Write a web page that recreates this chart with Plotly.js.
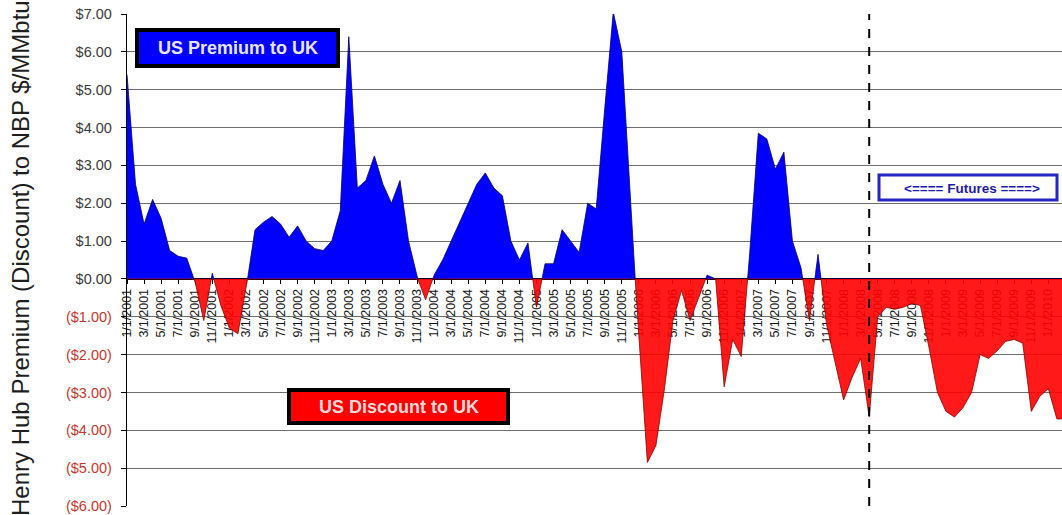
<!DOCTYPE html>
<html>
<head>
<meta charset="utf-8">
<script src="https://cdn.plot.ly/plotly-3.0.1.min.js"></script>
<style>
  html, body { margin: 0; padding: 0; background: #ffffff; }
  #chart { width: 1062px; height: 515px; }
</style>
</head>
<body>
<div id="chart"></div>
<script>
// Henry Hub premium / discount to NBP, monthly from Jan 2001 ($/MMBtu)
const spread = [
   5.40,  2.50,  1.45,  2.10,  1.60,  0.75,  0.60,  0.55, -0.10, -1.10,  // 2001
   0.15, -0.70, -1.30, -1.45, -0.20,  1.30,  1.50,  1.65,  1.45,  1.10,  // ...2002
   1.40,  1.00,  0.80,  0.75,  1.00,  1.80,  6.40,  2.40,  2.60,  3.25,
   2.50,  2.00,  2.60,  1.00,  0.05, -0.55,  0.10,  0.50,  1.00,  1.50,
   2.00,  2.50,  2.80,  2.40,  2.20,  1.00,  0.50,  0.95, -0.75,  0.40,
   0.40,  1.30,  1.00,  0.70,  2.00,  1.85,  4.50,  7.05,  6.00,  2.00,
  -1.50, -4.85, -4.40, -2.90, -1.10, -0.30, -1.10, -0.50,  0.10,  0.00,
  -2.85, -1.60, -2.05,  0.70,  3.85,  3.70,  2.90,  3.35,  1.00,  0.30,
  -1.10,  0.65, -1.20, -2.20, -3.20, -2.60, -2.10, -3.65, -1.00, -0.75,
  -0.80, -0.75, -0.65, -0.70, -1.80, -3.00, -3.50, -3.65, -3.40, -3.00,
  -2.00, -2.10, -1.90, -1.65, -1.60, -1.70, -3.50, -3.10, -2.90, -3.70,
  -3.70
];

// Bimonthly axis labels
const tickLabels = [
  "1/1/2001","3/1/2001","5/1/2001","7/1/2001","9/1/2001","11/1/2001",
  "1/1/2002","3/1/2002","5/1/2002","7/1/2002","9/1/2002","11/1/2002",
  "1/1/2003","3/1/2003","5/1/2003","7/1/2003","9/1/2003","11/1/2003",
  "1/1/2004","3/1/2004","5/1/2004","7/1/2004","9/1/2004","11/1/2004",
  "1/1/2005","3/1/2005","5/1/2005","7/1/2005","9/1/2005","11/1/2005",
  "1/1/2006","3/1/2006","5/1/2006","7/1/2006","9/1/2006","11/1/2006",
  "1/1/2007","3/1/2007","5/1/2007","7/1/2007","9/1/2007","11/1/2007",
  "1/1/2008","3/1/2008","5/1/2008","7/1/2008","9/1/2008","11/1/2008",
  "1/1/2009","3/1/2009","5/1/2009","7/1/2009","9/1/2009","11/1/2009",
  "1/1/2010"
];
const tickMonths = tickLabels.map((_, i) => i * 2);   // month index of each label

// First month of the futures strip (4/1/2008)
const futuresStart = 87;

const yTicks = [7, 6, 5, 4, 3, 2, 1, 0, -1, -2, -3, -4, -5, -6];

function money(v) {
  const s = "$" + Math.abs(v).toFixed(2);
  return v < 0 ? '<span style="color:#c8372d">(' + s + ')</span>' : s;
}

// Split the series into its positive and negative parts, meeting at zero crossings
function splitAtZero(vals) {
  const pos = { x: [], y: [] }, neg = { x: [], y: [] };
  for (let i = 0; i < vals.length; i++) {
    const v = vals[i];
    pos.x.push(i); pos.y.push(Math.max(v, 0));
    neg.x.push(i); neg.y.push(Math.min(v, 0));
    if (i < vals.length - 1) {
      const w = vals[i + 1];
      if ((v > 0 && w < 0) || (v < 0 && w > 0)) {
        const xc = i + v / (v - w);
        pos.x.push(xc); pos.y.push(0);
        neg.x.push(xc); neg.y.push(0);
      }
    }
  }
  return { pos, neg };
}

const parts = splitAtZero(spread);

const traces = [
  {
    x: parts.pos.x, y: parts.pos.y, type: "scatter", mode: "lines",
    fill: "tozeroy", fillcolor: "#0000ff",
    line: { color: "#00006e", width: 0.8 }, hoverinfo: "skip", showlegend: false
  },
  {
    // slightly see-through so the month labels and grid show under the discount area
    x: parts.neg.x, y: parts.neg.y, type: "scatter", mode: "lines",
    fill: "tozeroy", fillcolor: "rgba(255,0,0,0.9)",
    line: { color: "#8a0000", width: 0.8 }, hoverinfo: "skip", showlegend: false
  }
];

// plot area in pixels: x 127..1062, y 14..506
const L = 127, R = 1062, T = 14, B = 506;
const px = p => (p - L) / (R - L);
const py = p => (B - p) / (B - T);
const FONT = "Liberation Sans, Arial, sans-serif";

const layout = {
  width: 1062, height: 515,
  margin: { l: L, r: 1062 - R, t: T, b: 515 - B },
  paper_bgcolor: "#ffffff", plot_bgcolor: "#ffffff",
  font: { family: FONT, color: "#222" },
  showlegend: false,
  xaxis: {
    range: [0, 109.6],
    anchor: "free", position: 6 / 13,
    tickmode: "array", tickvals: tickMonths, ticktext: tickLabels,
    tickangle: -90,
    tickfont: { family: FONT, size: 12.5, color: "#141414" },
    ticks: "outside", ticklen: 4, tickcolor: "#000",
    showgrid: false, zeroline: false, showline: false,
    layer: "below traces"
  },
  yaxis: {
    range: [-6, 7],
    tickmode: "array", tickvals: yTicks, ticktext: yTicks.map(money),
    tickfont: { family: FONT, size: 14.5, color: "#3a3a3a" },
    ticks: "outside", ticklen: 5, tickcolor: "#000", ticklabelstandoff: 6,
    showgrid: true, gridcolor: "#6e6e6e", gridwidth: 1,
    showline: true, linecolor: "#000", linewidth: 1.2,
    zeroline: true, zerolinecolor: "#000", zerolinewidth: 1.2
  },
  shapes: [
    { type: "line", xref: "x", yref: "paper", x0: futuresStart, x1: futuresStart, y0: 0, y1: 1,
      line: { color: "#000", width: 2, dash: "dash" } },
    { type: "rect", xref: "paper", yref: "paper",
      x0: px(137), x1: px(338), y0: py(66), y1: py(30),
      fillcolor: "#0000ff", line: { color: "#000", width: 4 } },
    { type: "rect", xref: "paper", yref: "paper",
      x0: px(289), x1: px(508), y0: py(423), y1: py(390),
      fillcolor: "#ff0000", line: { color: "#000", width: 4 } },
    { type: "rect", xref: "paper", yref: "paper",
      x0: px(879), x1: px(1057), y0: py(200), y1: py(175),
      fillcolor: "#ffffff", line: { color: "#2626c4", width: 3 } }
  ],
  annotations: [
    { xref: "paper", yref: "paper", x: px(20), y: py(258), xanchor: "center", yanchor: "middle",
      text: "Henry Hub Premium (Discount) to NBP $/MMbtu", textangle: -90, showarrow: false,
      font: { family: FONT, size: 24, color: "#1e1e1e" } },
    { xref: "paper", yref: "paper", x: px(237.5), y: py(48), xanchor: "center", yanchor: "middle",
      text: "<b>US Premium to UK</b>", showarrow: false,
      font: { family: FONT, size: 18, color: "#e6e6ff" } },
    { xref: "paper", yref: "paper", x: px(398.5), y: py(406.5), xanchor: "center", yanchor: "middle",
      text: "<b>US Discount to UK</b>", showarrow: false,
      font: { family: FONT, size: 18, color: "#f6d8d8" } },
    { xref: "paper", yref: "paper", x: px(972), y: py(188), xanchor: "center", yanchor: "middle",
      text: "<b>&lt;==== Futures ====&gt;</b>",
      showarrow: false,
      font: { family: FONT, size: 13.5, color: "#1c1ca6" } }
  ]
};

Plotly.newPlot("chart", traces, layout, { staticPlot: true, displayModeBar: false });
</script>
</body>
</html>
